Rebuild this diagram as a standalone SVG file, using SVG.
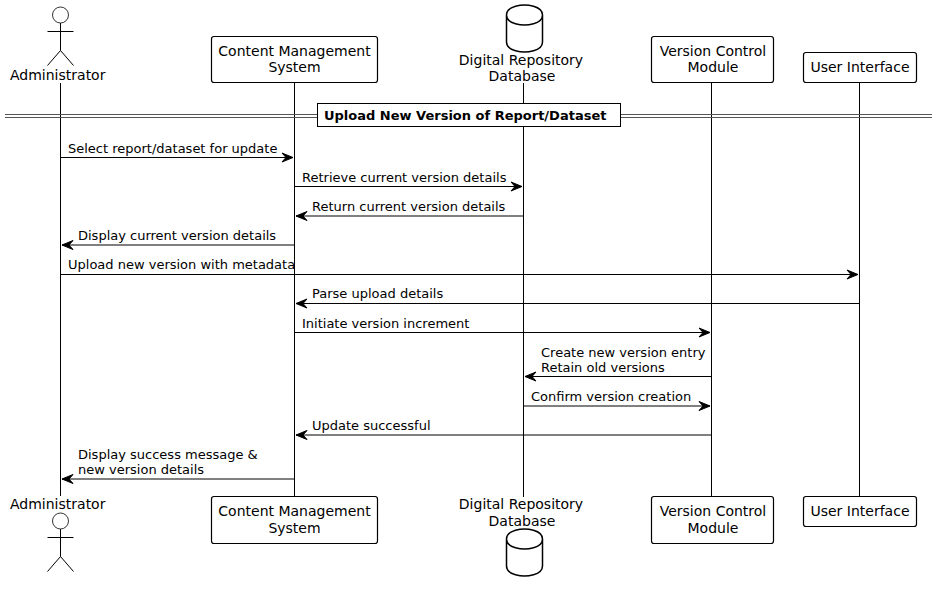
<svg xmlns="http://www.w3.org/2000/svg" width="937" height="591" viewBox="0 0 937 591">
<style>
text{font-family:"DejaVu Sans",sans-serif;fill:#000}
.n{font-size:14px}
.c{text-anchor:middle}
.m{font-size:13px}
.b{font-size:13px;font-weight:bold}
.s{fill:#fff;stroke:#000;stroke-width:1.2}
.l{fill:none;stroke:#000;stroke-width:1}
.a{fill:none;stroke:#000;stroke-width:1}
</style>
<defs>
<marker id="h" markerUnits="userSpaceOnUse" markerWidth="14" markerHeight="12" refX="12" refY="6" orient="auto-start-reverse" viewBox="0 0 14 12"><path d="M1 1.500L12 6L1 10.500L5 6Z" fill="#000" stroke="#000" stroke-width="1"/></marker>
<g id="actor"><circle cx="0" cy="0" r="8" class="s" style="stroke-width:.8"/><path d="M0 8V35.500M-13 16.500H13M0 35.500L-13 50.500M0 35.500L13 50.500" class="l"/></g>
<path id="db" d="M-18 10C-18 0 0 0 0 0C0 0 18 0 18 10V37C18 47 0 47 0 47C0 47 -18 47 -18 37ZM-18 10C-18 20 0 20 0 20C0 20 18 20 18 10" fill="#fff" stroke="#000" stroke-width="1.5"/>
</defs>
<rect width="937" height="591" fill="#fff"/>
<g id="connectors">
<path class="l" d="M60.500 83V496M294.500 83V497M523.500 83V497M711.500 83V497M859.500 83V497"/>
<g id="divider"><path fill="none" stroke="#555" d="M5 114.500H932M5 117.500H932"/><rect x="317.500" y="103.500" width="303" height="23" fill="#fff" stroke="#000"/><text class="b" x="324" y="120">Upload New Version of Report/Dataset</text></g>
<path class="a" marker-end="url(#h)" d="M60.500 157.500H293"/>
<text class="m" x="68" y="153">Select report/dataset for update</text>
<path class="a" marker-end="url(#h)" d="M294.500 186.500H522"/>
<text class="m" x="302" y="182">Retrieve current version details</text>
<path class="a" marker-end="url(#h)" d="M523.500 216H296"/>
<text class="m" x="312" y="211">Return current version details</text>
<path class="a" marker-end="url(#h)" d="M294.500 245H62"/>
<text class="m" x="78" y="240">Display current version details</text>
<path class="a" marker-end="url(#h)" d="M60.500 274.500H858"/>
<text class="m" x="68" y="269">Upload new version with metadata</text>
<path class="a" marker-end="url(#h)" d="M859.500 303.500H296"/>
<text class="m" x="312" y="298">Parse upload details</text>
<path class="a" marker-end="url(#h)" d="M294.500 332.500H710"/>
<text class="m" x="302" y="328">Initiate version increment</text>
<path class="a" marker-end="url(#h)" d="M711.500 376.500H525"/>
<text class="m" x="541" y="357">Create new version entry</text>
<text class="m" x="541" y="372">Retain old versions</text>
<path class="a" marker-end="url(#h)" d="M523.500 406H710"/>
<text class="m" x="531" y="401">Confirm version creation</text>
<path class="a" marker-end="url(#h)" d="M711.500 435H296"/>
<text class="m" x="312" y="430">Update successful</text>
<path class="a" marker-end="url(#h)" d="M294.500 479H62"/>
<text class="m" x="78" y="459">Display success message &amp;</text>
<text class="m" x="78" y="474">new version details</text>
</g>
<g id="administrator-top"><use href="#actor" x="60.500" y="15"/><text class="n" x="10" y="80">Administrator</text></g>
<g id="cms-top"><rect class="s" x="211.500" y="36.500" width="166" height="46" rx="2.500"/><text class="n c" x="294.500" y="56">Content Management</text><text class="n c" x="294.500" y="72">System</text></g>
<g id="db-top"><use href="#db" x="524.500" y="5"/><text class="n c" x="521" y="65">Digital Repository</text><text class="n c" x="522" y="81">Database</text></g>
<g id="vcm-top"><rect class="s" x="651.500" y="36.500" width="122" height="46" rx="2.500"/><text class="n c" x="713" y="56">Version Control</text><text class="n c" x="713" y="72">Module</text></g>
<g id="ui-top"><rect class="s" x="803.500" y="52.500" width="113" height="30" rx="2.500"/><text class="n c" x="860" y="72">User Interface</text></g>
<g id="administrator-bottom"><text class="n" x="10" y="509">Administrator</text><use href="#actor" x="60.500" y="521"/></g>
<g id="cms-bottom"><rect class="s" x="211.500" y="496.500" width="166" height="47" rx="2.500"/><text class="n c" x="294.500" y="516">Content Management</text><text class="n c" x="294.500" y="533">System</text></g>
<g id="db-bottom"><text class="n c" x="521" y="509">Digital Repository</text><text class="n c" x="522" y="526">Database</text><use href="#db" x="524.500" y="529"/></g>
<g id="vcm-bottom"><rect class="s" x="651.500" y="496.500" width="122" height="47" rx="2.500"/><text class="n c" x="713" y="516">Version Control</text><text class="n c" x="713" y="533">Module</text></g>
<g id="ui-bottom"><rect class="s" x="803.500" y="496.500" width="113" height="30" rx="2.500"/><text class="n c" x="860" y="516">User Interface</text></g>
</svg>
